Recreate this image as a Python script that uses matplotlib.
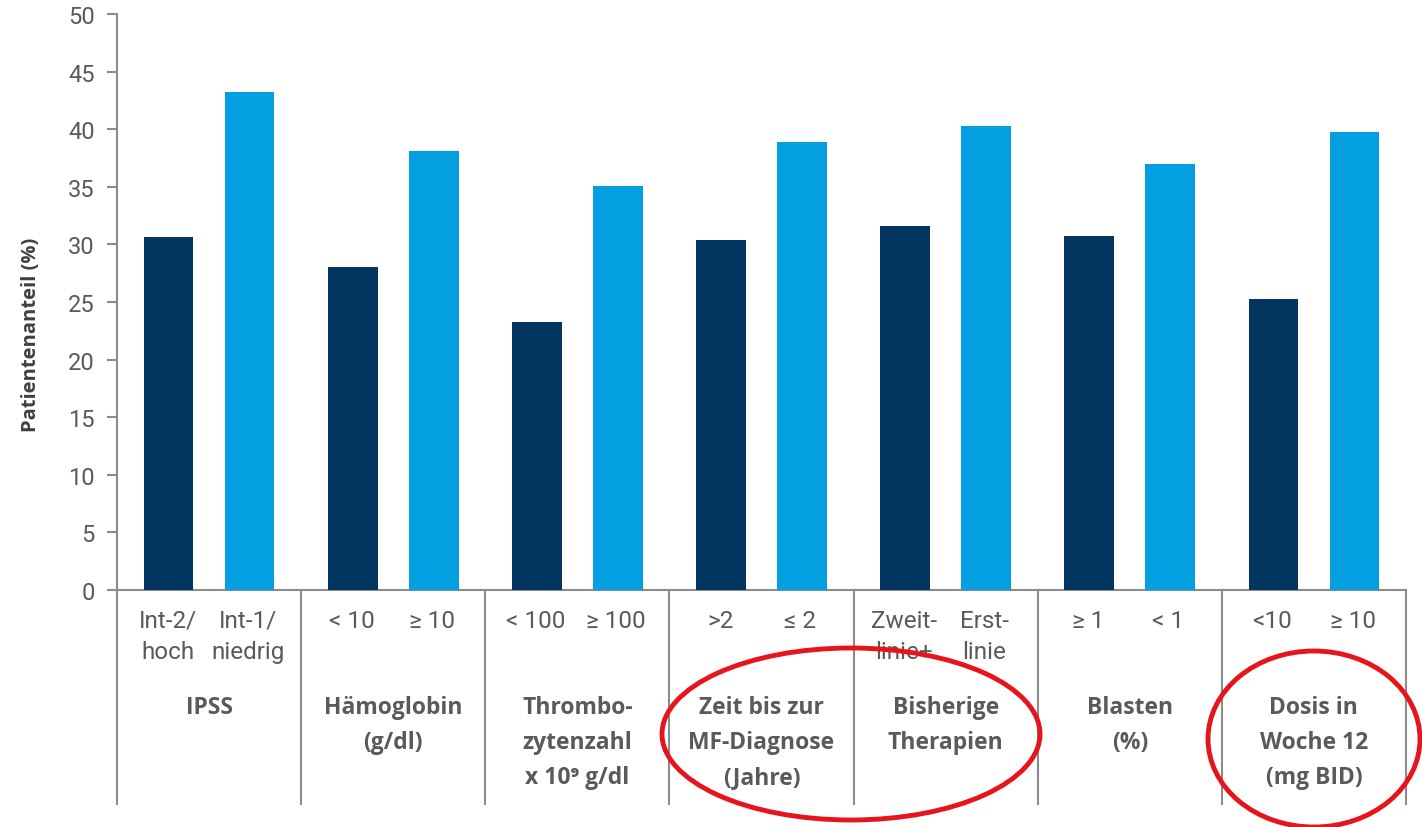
import matplotlib
matplotlib.use("Agg")
import matplotlib.pyplot as plt
from matplotlib.patches import Ellipse
import matplotlib.transforms as mtransforms

# ---- data ----
groups = ["IPSS", "Hämoglobin\n(g/dl)", "Thrombo-\nzytenzahl\nx 10⁹ g/dl",
          "Zeit bis zur\nMF-Diagnose\n(Jahre)", "Bisherige\nTherapien",
          "Blasten\n(%)", "Dosis in\nWoche 12\n(mg BID)"]
sub_left = ["Int-2/\nhoch", "< 10", "< 100", ">2", "Zweit-\nlinie+", "≥ 1", "<10"]
sub_right = ["Int-1/\nniedrig", "≥ 10", "≥ 100", "≤ 2", "Erst-\nlinie", "< 1", "≥ 10"]
vals_dark = [30.6, 28.0, 23.3, 30.4, 31.6, 30.7, 25.3]
vals_light = [43.2, 38.1, 35.1, 38.9, 40.3, 37.0, 39.8]
yticks = [0, 5, 10, 15, 20, 25, 30, 35, 40, 45, 50]

DARK = "#02355f"
LIGHT = "#039fe0"
GREY = "#8c8c8c"
TXT = "#5a5a5a"

W, H = 1422, 828
fig = plt.figure(figsize=(W / 100, H / 100), dpi=100)
x0, x1 = 117, 1406
ytop, ybot = 15, 591
ax = fig.add_axes([x0 / W, 1 - ybot / H, (x1 - x0) / W, (ybot - ytop) / H])

n = len(groups)
centers = [i + 0.5 for i in range(n)]
bw = 0.27
ax.bar([c - 0.22 for c in centers], vals_dark, width=bw, color=DARK, zorder=3)
ax.bar([c + 0.22 for c in centers], vals_light, width=bw, color=LIGHT, zorder=3)

ax.set_xlim(0, n)
ax.set_ylim(0, 50)
ax.set_yticks(yticks)
ax.set_xticks([])
for s in ["top", "right"]:
    ax.spines[s].set_visible(False)
for s in ["left", "bottom"]:
    ax.spines[s].set_color(GREY)
    ax.spines[s].set_linewidth(1.5)
ax.tick_params(axis="y", direction="out", length=7, width=1.5, color=GREY,
               labelsize=17, labelcolor=TXT, pad=9)
for lab in ax.get_yticklabels():
    lab.set_family(["Roboto", "DejaVu Sans"])

fig.text(31 / W, 1 - 335 / H, "Patientenanteil (%)", rotation=90, ha="center",
         va="center", fontsize=14.5, fontweight="bold", color="#404040",
         family=["Open Sans", "DejaVu Sans"])

trans = mtransforms.blended_transform_factory(ax.transData, ax.transAxes)
def fy(py):
    return (ybot - py) / (ybot - ytop)

# separators
for i in range(n + 1):
    ax.plot([i, i], [0, fy(805)], color=GREY, lw=1.5, transform=trans,
            clip_on=False, zorder=1)

for i, c in enumerate(centers):
    ax.text(c - 0.225, fy(610), sub_left[i], transform=trans, ha="center", va="top",
            fontsize=17.5, color=TXT, family=["Roboto", "DejaVu Sans"], linespacing=1.42)
    ax.text(c + 0.21, fy(610), sub_right[i], transform=trans, ha="center", va="top",
            fontsize=17.5, color=TXT, family=["Roboto", "DejaVu Sans"], linespacing=1.42)
    ax.text(c, fy(696), groups[i], transform=trans, ha="center", va="top",
            fontsize=16.5, fontweight="bold", color=TXT,
            family=["Open Sans", "DejaVu Sans"], linespacing=1.62)

# red ellipses
e1 = Ellipse((851 / W, 1 - 735 / H), 378 / W, 172 / H, angle=0,
             transform=fig.transFigure, fill=False, edgecolor="#e8141b", lw=3.5)
e2 = Ellipse((1314 / W, 1 - 740 / H), 212 / W, 176 / H, angle=0,
             transform=fig.transFigure, fill=False, edgecolor="#e8141b", lw=3.5)
fig.add_artist(e1)
fig.add_artist(e2)

fig.savefig("out.png", dpi=100)
